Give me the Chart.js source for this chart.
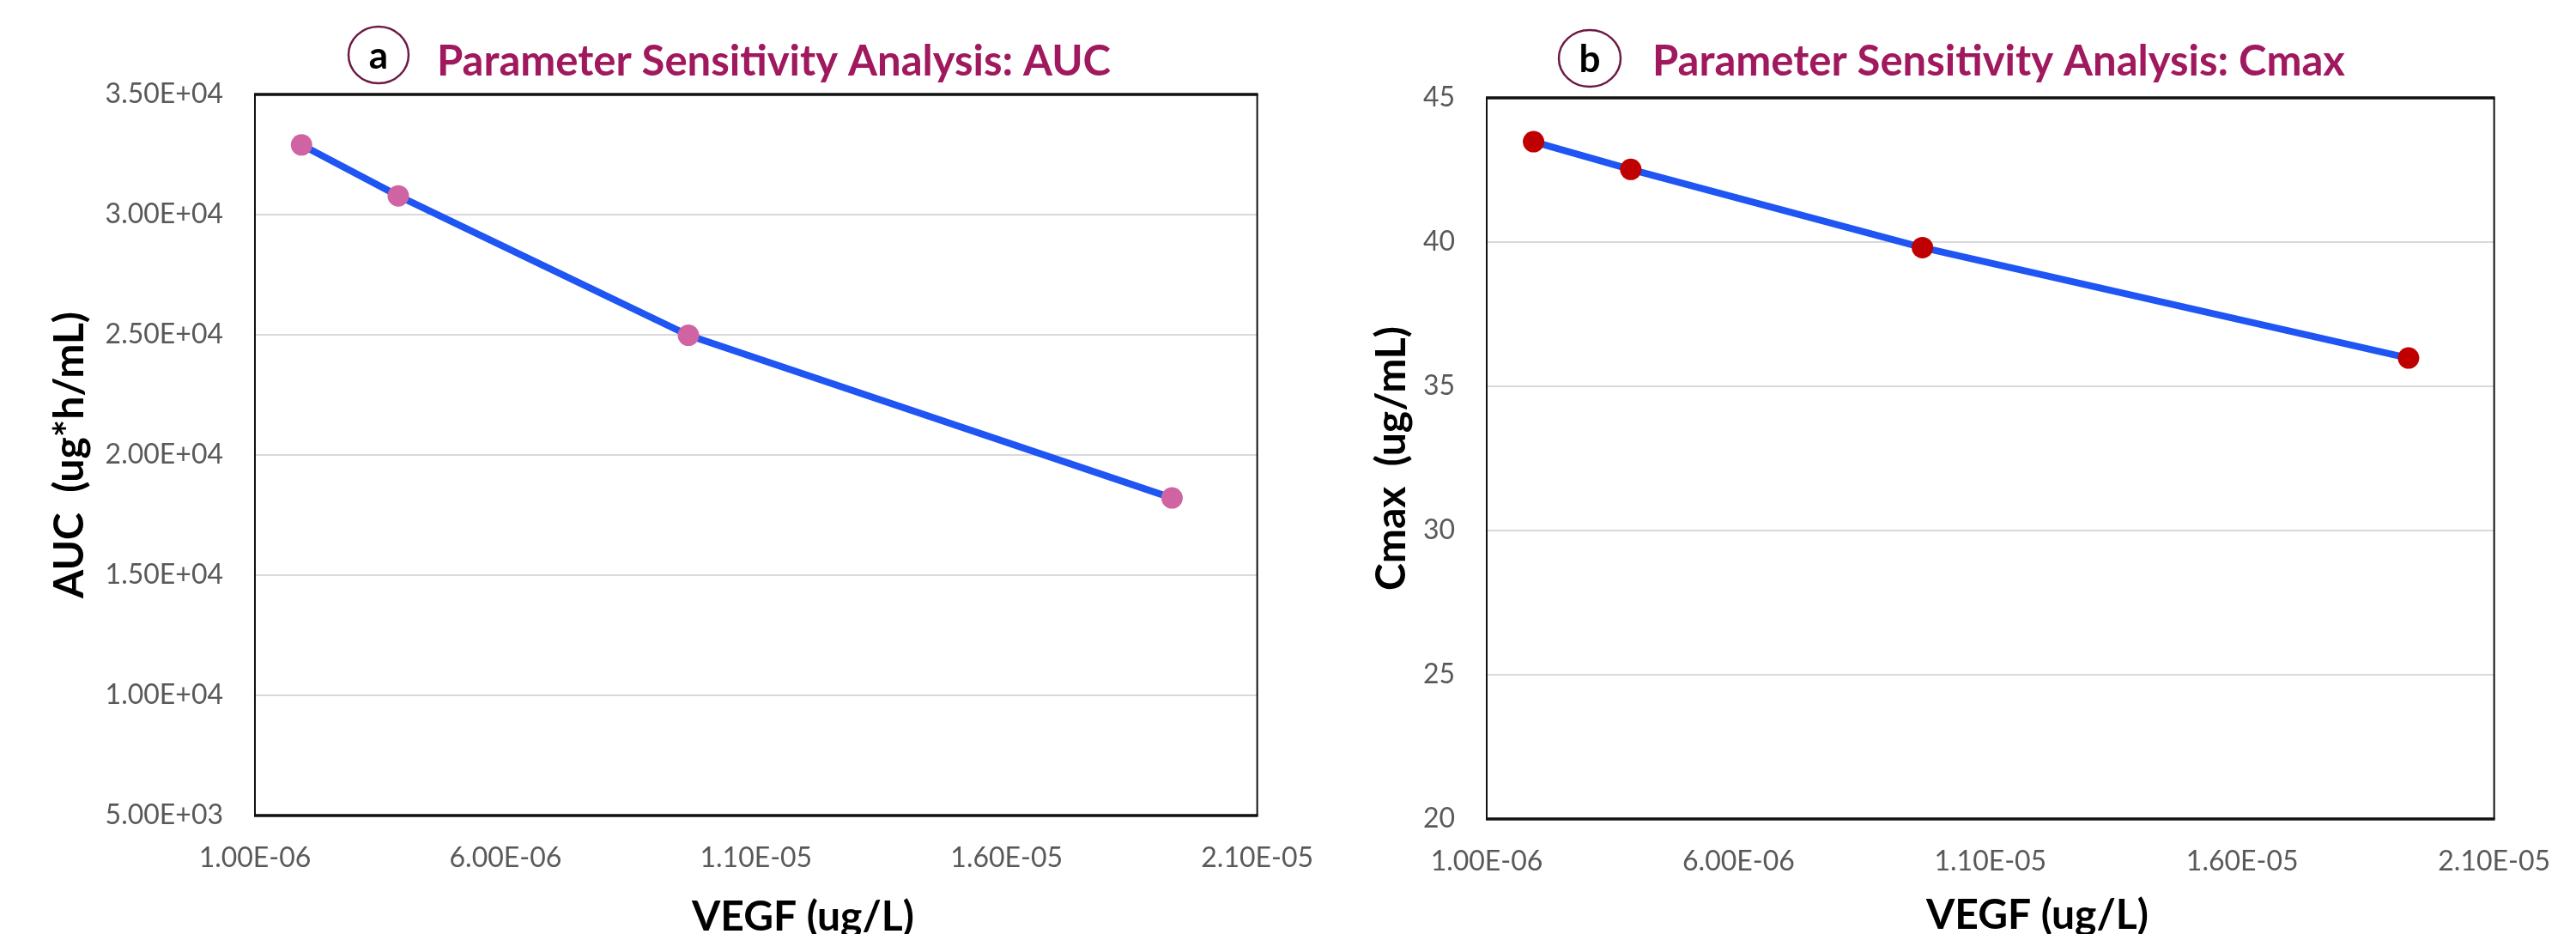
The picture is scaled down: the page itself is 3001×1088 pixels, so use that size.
<!DOCTYPE html>
<html><head><meta charset="utf-8">
<script src="https://cdn.jsdelivr.net/npm/chart.js@4.4.1/dist/chart.umd.min.js"></script>
<style>
html,body{margin:0;padding:0;background:#fff;width:3001px;height:1088px;overflow:hidden}
.wrap{position:absolute;top:0;height:1088px}
#wa{left:0;width:1560px}
#wb{left:1560px;width:1441px}
</style></head><body>
<div class="wrap" id="wa"><canvas id="ca"></canvas></div>
<div class="wrap" id="wb"><canvas id="cb"></canvas></div>
<script>
// ---- data ----
const vegf = [1.93e-6, 3.86e-6, 9.65e-6, 1.93e-5];
const aucValues = [32900, 30780, 24980, 18210];
const cmaxValues = [43.48, 42.52, 39.81, 35.98];
const xTicks = [1e-6, 6e-6, 1.1e-5, 1.6e-5, 2.1e-5];
const xTickLabels = ['1.00E-06', '6.00E-06', '1.10E-05', '1.60E-05', '2.10E-05'];
const aucTicks = [5000, 10000, 15000, 20000, 25000, 30000, 35000];
const aucTickLabels = ['5.00E+03', '1.00E+04', '1.50E+04', '2.00E+04', '2.50E+04', '3.00E+04', '3.50E+04'];
const cmaxTicks = [20, 25, 30, 35, 40, 45];
const cmaxTickLabels = ['20', '25', '30', '35', '40', '45'];
const titleA = 'Parameter Sensitivity Analysis: AUC';
const titleB = 'Parameter Sensitivity Analysis: Cmax';
const letterA = 'a';
const letterB = 'b';
const xTitle = 'VEGF (ug/L)';
const yTitleA = 'AUC  (ug*h/mL)';
const yTitleB = 'Cmax  (ug/mL)';

// ---- styling ----
const FONT = 'Lato, "Open Sans", sans-serif';
const LINE = '#1f55f2';
const GRID = '#d9d9d9';
const TICKC = '#595959';
const TITLEC = '#a0195e';

function labelFor(ticks, labels) {
  return (v) => {
    let best = 0, d = Infinity;
    ticks.forEach((t, i) => { const dd = Math.abs(t - v); if (dd < d) { d = dd; best = i; } });
    return labels[best];
  };
}

const decor = {
  id: 'decor',
  afterDraw(chart, args, o) {
    const ctx = chart.ctx;
    const a = chart.chartArea;
    ctx.save();
    // plot frame
    ctx.strokeStyle = '#111';
    ctx.lineWidth = 2;
    ctx.beginPath();
    ctx.moveTo(a.left, a.top); ctx.lineTo(a.left, a.bottom);
    ctx.moveTo(a.right, a.top); ctx.lineTo(a.right, a.bottom);
    ctx.stroke();
    ctx.lineWidth = 3.5;
    ctx.beginPath();
    ctx.moveTo(a.left - 1, a.top); ctx.lineTo(a.right + 1, a.top);
    ctx.moveTo(a.left - 1, a.bottom); ctx.lineTo(a.right + 1, a.bottom);
    ctx.stroke();
    // circled letter
    ctx.beginPath();
    ctx.ellipse(o.cx, o.cy, o.rx, o.ry, 0, 0, Math.PI * 2);
    ctx.lineWidth = 2.5;
    ctx.strokeStyle = '#6d1a45';
    ctx.stroke();
    ctx.fillStyle = '#000';
    ctx.font = 'bold 44px ' + FONT;
    ctx.textAlign = 'center';
    ctx.textBaseline = 'alphabetic';
    ctx.fillText(o.letter, o.cx, o.cy + 16);
    // chart title
    ctx.textAlign = 'left';
    ctx.fillStyle = TITLEC;
    ctx.font = 'bold 49px ' + FONT;
    ctx.fillText(o.title, o.tx, o.ty);
    // x axis title
    ctx.fillStyle = '#000';
    ctx.font = 'bold 48px ' + FONT;
    ctx.fillText(o.xTitle, o.xx, o.xy);
    ctx.restore();
  }
};

function makeChart(id, values, pointColor, yTicks, yLabels, yMin, yMax, yTitle, yWidth, yTitlePad, rightPad, topPad, bottomPad, decorOpts) {
  return new Chart(document.getElementById(id), {
    type: 'line',
    data: {
      datasets: [{
        data: vegf.map((x, i) => ({ x: x, y: values[i] })),
        borderColor: LINE,
        borderWidth: 8,
        pointBackgroundColor: pointColor,
        pointBorderColor: pointColor,
        pointBorderWidth: 0,
        pointRadius: 12.5,
        pointHoverRadius: 12.5,
        tension: 0,
        fill: false
      }]
    },
    options: {
      responsive: true,
      maintainAspectRatio: false,
      devicePixelRatio: 1,
      animation: false,
      events: [],
      layout: { padding: { left: 0, right: rightPad, top: topPad, bottom: bottomPad } },
      plugins: { legend: { display: false }, tooltip: { enabled: false }, decor: decorOpts },
      scales: {
        x: {
          type: 'linear',
          min: xTicks[0],
          max: xTicks[xTicks.length - 1],
          afterBuildTicks: s => { s.ticks = xTicks.map(v => ({ value: v })); },
          afterFit: s => { s.height = 60; },
          grid: { display: false, drawTicks: false },
          border: { display: false },
          ticks: {
            callback: labelFor(xTicks, xTickLabels),
            font: { family: FONT, size: 32 },
            color: TICKC,
            padding: 30,
            maxRotation: 0,
            autoSkip: false
          }
        },
        y: {
          type: 'linear',
          min: yMin,
          max: yMax,
          afterBuildTicks: s => { s.ticks = yTicks.map(v => ({ value: v })); },
          afterFit: s => { s.width = yWidth; },
          grid: { color: GRID, lineWidth: 2, drawTicks: false },
          border: { display: false },
          ticks: {
            callback: labelFor(yTicks, yLabels),
            font: { family: FONT, size: 32 },
            color: TICKC,
            padding: 37,
            autoSkip: false
          },
          title: {
            display: true,
            text: yTitle,
            color: '#000',
            font: { family: FONT, size: 48, weight: 'bold' },
            padding: { top: yTitlePad, bottom: 0 }
          }
        }
      }
    },
    plugins: [decor]
  });
}

makeChart('ca', aucValues, '#d063a2', aucTicks, aucTickLabels, 5000, 35000, yTitleA,
  297, 53, 76, 110, 78,
  { cx: 441, cy: 64, rx: 35, ry: 33, letter: letterA, title: titleA, tx: 509, ty: 88, xTitle: xTitle, xx: 806, xy: 1084 });

makeChart('cb', cmaxValues, '#c00000', cmaxTicks, cmaxTickLabels, 20, 45, yTitleB,
  172, 33, 77, 114, 74,
  { cx: 292, cy: 68, rx: 36, ry: 33, letter: letterB, title: titleB, tx: 365, ty: 88, xTitle: xTitle, xx: 684, xy: 1082 });
</script>
</body></html>
